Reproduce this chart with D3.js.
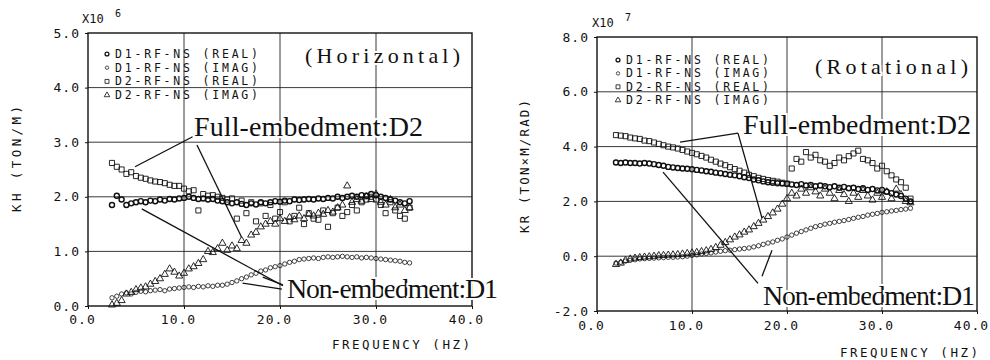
<!DOCTYPE html>
<html>
<head>
<meta charset="utf-8">
<script src="https://cdn.jsdelivr.net/npm/d3@7"></script>
<style>
  body { margin: 0; background: #fff; }
  text { fill: #111; }
</style>
</head>
<body>
<svg id="chart" width="990" height="360"></svg>
<script>
// --------------------
//  data
// --------------------

// horizontal stiffness KH, x10^6 TON/M
const freqH = [2.5,3,3.5,4,4.5,5,5.5,6,6.5,7,7.5,8,8.5,9,9.5,10,10.5,11,11.5,12,
  12.5,13,13.5,14,14.5,15,15.5,16,16.5,17,17.5,18,18.5,19,19.5,20,20.5,21,21.5,22,
  22.5,23,23.5,24,24.5,25,25.5,26,26.5,27,27.5,28,28.5,29,29.5,30,30.5,31,31.5,32,
  32.5,33,33.5];
const khD1Real = [1.85,2.02,1.95,1.85,1.88,1.90,1.92,1.90,1.93,1.92, 1.95,1.93,1.96,1.95,1.97,1.98,2.00,1.98,1.96,1.97,
  1.95,1.96,1.93,1.92,1.90,1.88,1.90,1.87,1.85,1.88, 1.86,1.90,1.88,1.90,1.92,1.91,1.93,1.92,1.95,1.94,
  1.95,1.96,1.95,1.97,1.96,1.98,1.97,2.00,1.98,2.00, 2.02,2.00,2.03,2.02,2.05,2.03,2.00,1.98,1.95,1.93,
  1.90,1.88,1.92];
const khD1Imag = [0.15,0.18,0.22,0.24,0.22,0.25,0.27,0.26,0.28,0.29, 0.30,0.28,0.31,0.32,0.33,0.34,0.35,0.34,0.36,0.35,
  0.37,0.36,0.38,0.38,0.40,0.43,0.46,0.50,0.53,0.57, 0.60,0.64,0.66,0.70,0.72,0.74,0.77,0.80,0.82,0.85,
  0.86,0.87,0.88,0.87,0.89,0.90,0.89,0.90,0.91,0.90, 0.89,0.90,0.88,0.89,0.88,0.87,0.86,0.85,0.84,0.83,
  0.82,0.80,0.79];
const khD2Real = [2.62,2.55,2.50,2.42,2.45,2.38,2.35,2.33,2.30,2.28, 2.27,2.25,2.22,2.20,2.20,2.15,2.10,2.12,1.75,2.05,
  2.02,2.03,2.00,1.98,1.95,1.97,1.60,1.93,1.70,1.90, 1.55,1.88,1.65,1.85,1.60,1.72,1.90,1.55,1.65,1.80,
  1.50,1.70,1.60,1.58,1.75,1.45,1.70,1.80,1.65,1.72, 1.85,1.75,1.90,1.95,2.00,1.95,1.85,1.70,1.90,1.75,
  1.65,1.60,1.80];
const khD2Imag = [0.02,0.05,0.10,0.22,0.25,0.30,0.33,0.35,0.40,0.45, 0.50,0.58,0.68,0.62,0.55,0.60,0.68,0.72,0.78,0.85,
  1.00,0.98,1.05,1.15,1.02,1.10,1.05,1.20,1.15,1.30, 1.35,1.45,1.50,1.55,1.50,1.60,1.55,1.62,1.58,1.65,
  1.60,1.68,1.65,1.70,1.68,1.75,1.72,1.80,1.85,2.20, 1.90,1.95,1.92,2.00,1.95,2.05,1.90,1.85,1.95,1.80,
  1.85,1.75,1.80];

// rotational stiffness KR, x10^7 TON*M/RAD
const freqR = [2,2.5,3,3.5,4,4.5,5,5.5,6,6.5,7,7.5,8,8.5,9,9.5,10,10.5,11,11.5,
  12,12.5,13,13.5,14,14.5,15,15.5,16,16.5,17,17.5,18,18.5,19,19.5,20,20.5,21,21.5,
  22,22.5,23,23.5,24,24.5,25,25.5,26,26.5,27,27.5,28,28.5,29,29.5,30,30.5,31,31.5,
  32,32.5,33];
const krD1Real = [3.42,3.40,3.42,3.40,3.40,3.38,3.40,3.38,3.36,3.33, 3.30,3.26,3.24,3.22,3.20,3.19,3.17,3.15,3.13,3.10,
  3.08,3.05,3.03,3.00,2.97,2.95,2.92,2.88,2.85,2.80, 2.77,2.73,2.70,2.68,2.66,2.65,2.64,2.62,2.60,2.63,
  2.58,2.60,2.55,2.58,2.55,2.52,2.55,2.50,2.53,2.48, 2.50,2.45,2.48,2.42,2.45,2.40,2.42,2.35,2.30,2.25,
  2.20,2.10,2.00];
const krD1Imag = [-0.25,-0.22,-0.18,-0.15,-0.13,-0.10,-0.09,-0.08,-0.07,-0.06, -0.05,-0.04,-0.04,-0.03,-0.02,0.00,0.03,0.05,0.08,0.10,
  0.12,0.15,0.18,0.20,0.22,0.24,0.26,0.28,0.30,0.34, 0.38,0.43,0.48,0.52,0.58,0.63,0.70,0.77,0.84,0.90,
  0.96,1.02,1.08,1.12,1.17,1.20,1.24,1.27,1.30,1.34, 1.38,1.42,1.45,1.50,1.53,1.56,1.60,1.62,1.65,1.67,
  1.70,1.72,1.75];
const krD2Real = [4.42,4.40,4.38,4.33,4.30,4.28,4.22,4.20,4.15,4.10, 4.05,4.00,3.97,3.93,3.88,3.82,3.77,3.72,3.66,3.60,
  3.52,3.45,3.38,3.32,3.25,3.18,3.12,3.05,2.97,2.92, 2.86,2.82,2.78,2.75,2.72,2.68,2.65,3.20,3.55,3.45,
  3.80,3.60,3.70,3.50,3.45,3.30,3.40,3.60,3.50,3.65, 3.75,3.85,3.55,3.50,3.40,3.20,3.30,3.10,2.95,2.80,
  2.70,2.50,2.10];
const krD2Imag = [-0.30,-0.25,-0.15,-0.10,-0.07,-0.05,-0.03,-0.02,0.00,0.02, 0.03,0.04,0.05,0.06,0.08,0.10,0.12,0.14,0.17,0.20,
  0.25,0.32,0.40,0.50,0.60,0.70,0.78,0.88,0.96,1.08, 1.20,1.32,1.45,1.58,1.72,1.90,2.10,2.30,2.20,2.45,
  2.30,2.50,2.35,2.20,2.45,2.30,2.10,2.40,2.25,2.00, 2.30,2.15,2.40,2.20,2.05,2.30,2.15,2.35,2.10,2.45,
  2.25,2.00,1.95];

// ticks and texts
const xTicks = [0, 10, 20, 30, 40];
const yTicksH = [0, 1, 2, 3, 4, 5];
const yTicksR = [-2, 0, 2, 4, 6, 8];
const legendLabels = ["D1-RF-NS  (REAL)", "D1-RF-NS  (IMAG)", "D2-RF-NS  (REAL)", "D2-RF-NS  (IMAG)"];

// --------------------
//  styles
// --------------------
const plotFont = "'DejaVu Sans Mono', monospace";
const noteFont = "'Liberation Serif', serif";

// marker per series: D1 real, D1 imag, D2 real, D2 imag
const markers = [
    {type: d3.symbolCircle,   size: 20, sw: 1.4},
    {type: d3.symbolCircle,   size: 15, sw: 0.8},
    {type: d3.symbolSquare,   size: 26, sw: 0.9},
    {type: d3.symbolTriangle, size: 22, sw: 0.9},
];
const drawOrder = [3, 1, 0, 2];

// --------------------
//  functions
// --------------------
function drawPanel(svg, p) {
    const x = d3.scaleLinear().domain([0, 40]).range([p.left, p.right]);
    const y = d3.scaleLinear().domain(p.yDomain).range([p.bottom, p.top]);
    const g = svg.append("g");

    // グリッド
    g.append("g").selectAll("line")
        .data(xTicks.slice(1, -1)).join("line")
        .attr("x1", d => x(d)).attr("x2", d => x(d))
        .attr("y1", p.top).attr("y2", p.bottom)
        .attr("stroke", "#222").attr("stroke-width", 0.9);
    g.append("g").selectAll("line")
        .data(p.yTicks.slice(1, -1)).join("line")
        .attr("x1", p.left).attr("x2", p.right)
        .attr("y1", d => y(d)).attr("y2", d => y(d))
        .attr("stroke", "#222").attr("stroke-width", 0.9);

    // 枠
    g.append("rect")
        .attr("x", p.left).attr("y", p.top)
        .attr("width", p.right - p.left).attr("height", p.bottom - p.top)
        .attr("fill", "none").attr("stroke", "#111").attr("stroke-width", 1.4);

    // 軸
    const ax = g.append("g")
        .attr("transform", `translate(0,${p.bottom})`)
        .call(d3.axisBottom(x).tickValues(xTicks).tickFormat(d => d.toFixed(1))
            .tickSize(3).tickPadding(p.xPad));
    const ay = g.append("g")
        .attr("transform", `translate(${p.left},0)`)
        .call(d3.axisLeft(y).tickValues(p.yTicks).tickFormat(d => d.toFixed(1))
            .tickSize(3).tickPadding(5));
    [ax, ay].forEach(a => {
        a.select(".domain").remove();
        a.attr("font-family", plotFont).attr("font-size", 13);
        a.selectAll("line").attr("stroke", "#111");
        a.selectAll("text").attr("fill", "#111").style("letter-spacing", "1px");
    });
    ax.selectAll("text").attr("dx", -6);

    // データ点
    const series = p.series;
    drawOrder.forEach(i => {
        const m = markers[i];
        const pts = d3.zip(p.freq, series[i]);
        g.append("g").selectAll("path")
            .data(pts).join("path")
            .attr("transform", d => `translate(${x(d[0])},${y(d[1])})`)
            .attr("d", d3.symbol().type(m.type).size(m.size))
            .attr("fill", "none").attr("stroke", "#111").attr("stroke-width", m.sw);
    });

    // 凡例
    const lg = g.append("g");
    legendLabels.forEach((label, i) => {
        const m = markers[i];
        const cy = p.legendY + i * p.legendStep;
        lg.append("path")
            .attr("transform", `translate(${p.legendX},${cy})`)
            .attr("d", d3.symbol().type(m.type).size(m.size * 0.6))
            .attr("fill", "none").attr("stroke", "#111").attr("stroke-width", m.sw * 0.9);
        lg.append("text")
            .attr("x", p.legendX + 8).attr("y", cy + 4)
            .attr("font-family", plotFont).attr("font-size", 11.5)
            .attr("textLength", 143).attr("lengthAdjust", "spacing")
            .text(label);
    });

    // 引き出し線
    g.append("g").selectAll("line")
        .data(p.leaders).join("line")
        .attr("x1", d => x(d[0][0])).attr("y1", d => y(d[0][1]))
        .attr("x2", d => x(d[1][0])).attr("y2", d => y(d[1][1]))
        .attr("stroke", "#111").attr("stroke-width", 1.3);

    // 注記
    p.notes.forEach(n => {
        g.append("text")
            .attr("x", n.x).attr("y", n.y)
            .attr("font-family", noteFont).attr("font-size", n.size)
            .attr("textLength", n.w).attr("lengthAdjust", "spacing")
            .attr("stroke", "#fff").attr("stroke-width", 4)
            .attr("paint-order", "stroke")
            .text(n.text);
    });

    // 軸ラベル
    g.append("text")
        .attr("transform", `translate(${p.yLabel.x},${p.yLabel.y}) rotate(-90)`)
        .attr("font-family", plotFont).attr("font-size", 12.5)
        .attr("textLength", p.yLabel.w).attr("lengthAdjust", "spacing")
        .text(p.yLabel.text);
    g.append("text")
        .attr("x", p.xLabel.x).attr("y", p.xLabel.y)
        .attr("font-family", plotFont).attr("font-size", 12.5)
        .attr("textLength", 138).attr("lengthAdjust", "spacing")
        .text("FREQUENCY (HZ)");

    // 指数
    g.append("text")
        .attr("x", p.exp.x).attr("y", p.exp.y)
        .attr("font-family", plotFont).attr("font-size", 12)
        .text("X10");
    g.append("text")
        .attr("x", p.exp.x + 33).attr("y", p.exp.y - 6)
        .attr("font-family", plotFont).attr("font-size", 10)
        .text(p.exp.power);
}

// --------------------
//  init
// --------------------
const svg = d3.select("#chart");

drawPanel(svg, {
    left: 88, right: 472, top: 33, bottom: 306,
    yDomain: [0, 5], yTicks: yTicksH, xPad: 6,
    freq: freqH,
    series: [khD1Real, khD1Imag, khD2Real, khD2Imag],
    legendX: 107, legendY: 54, legendStep: 13.7,
    leaders: [
        [[10.9, 3.1], [4.9, 2.55]],
        [[11.35, 2.95], [16.0, 1.26]],
        [[20.3, 0.37], [5.6, 1.78]],
        [[20.3, 0.385], [18.2, 0.53]],
        [[20.2, 0.31], [16.1, 0.42]],
    ],
    notes: [
        {text: "(Horizontal)", x: 305, y: 63, size: 22, w: 155},
        {text: "Full-embedment:D2", x: 194, y: 136, size: 28, w: 229},
        {text: "Non-embedment:D1", x: 287, y: 298, size: 28, w: 211},
    ],
    yLabel: {text: "KH  (TON/M)", x: 20.5, y: 212, w: 106},
    xLabel: {x: 332, y: 349},
    exp: {x: 82, y: 23, power: "6"},
});

drawPanel(svg, {
    left: 597, right: 977, top: 37, bottom: 311,
    yDomain: [-2, 8], yTicks: yTicksR, xPad: 7,
    freq: freqR,
    series: [krD1Real, krD1Imag, krD2Real, krD2Imag],
    legendX: 618, legendY: 60, legendStep: 13.4,
    leaders: [
        [[14.84, 4.49], [8.74, 4.16]],
        [[14.84, 4.49], [17.37, 1.39]],
        [[16.95, -0.99], [6.95, 3.07]],
        [[17.37, -0.73], [18.42, 0.22]],
    ],
    notes: [
        {text: "(Rotational)", x: 815, y: 74, size: 22, w: 153},
        {text: "Full-embedment:D2", x: 743, y: 134, size: 28, w: 228},
        {text: "Non-embedment:D1", x: 763, y: 305, size: 28, w: 212},
    ],
    yLabel: {text: "KR  (TON×M/RAD)", x: 528.5, y: 233, w: 133},
    xLabel: {x: 840, y: 357},
    exp: {x: 592, y: 27, power: "7"},
});
</script>
</body>
</html>
